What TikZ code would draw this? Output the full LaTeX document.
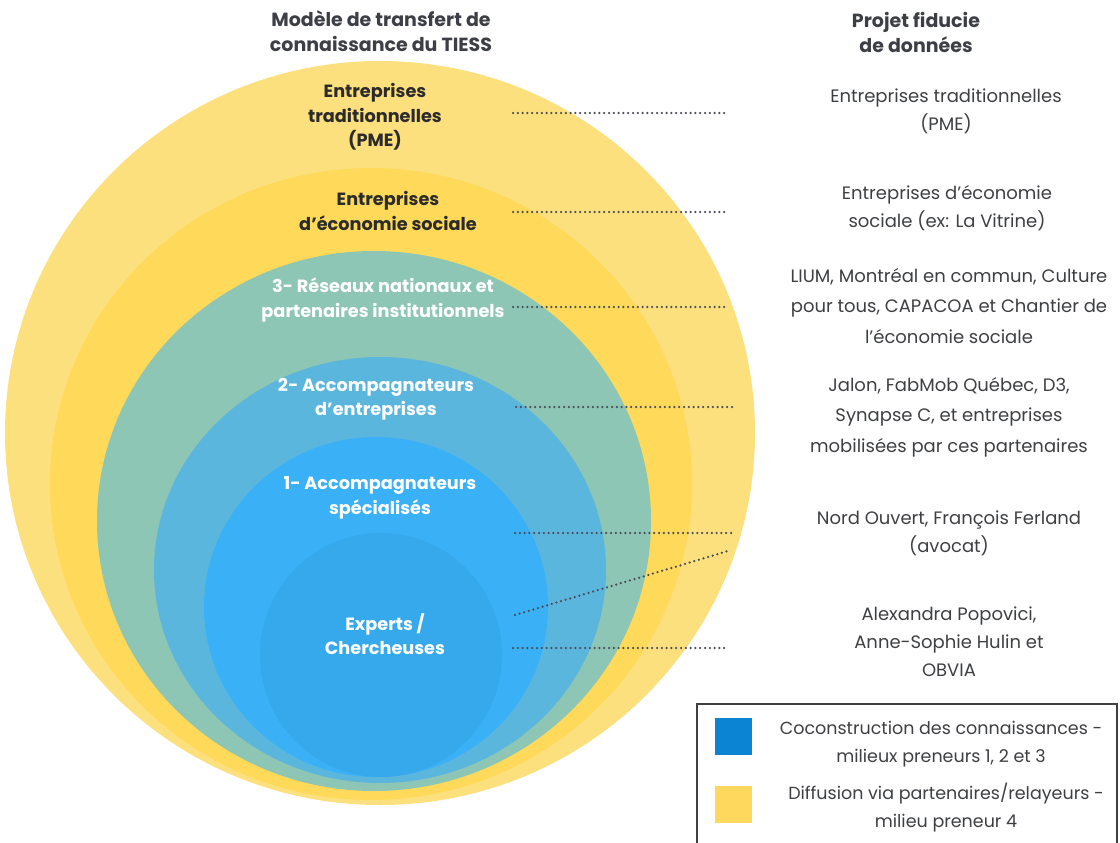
\documentclass[tikz,border=0pt]{standalone}
\usepackage{fontspec}
\setmainfont{Poppins}
\definecolor{yelA}{HTML}{FDE07E}
\definecolor{yelB}{HTML}{FED95A}
\definecolor{teal3}{HTML}{8DC6B4}
\definecolor{blue2}{HTML}{5BB6DE}
\definecolor{blue1}{HTML}{3AB0F6}
\definecolor{blue0}{HTML}{36A9EC}
\definecolor{legblue}{HTML}{0B84D4}
\definecolor{legyel}{HTML}{FDD85C}
\definecolor{txtdark}{HTML}{2B2B2B}
\definecolor{txtgray}{HTML}{3F4043}
\definecolor{titlegray}{HTML}{3C3F45}
\definecolor{dotgray}{HTML}{4A4F57}
\tikzset{
  lbl/.style={align=center, inner sep=0pt, font=\bfseries\fontsize{17.7}{24.5}\selectfont},
  lblw/.style={lbl, text=white},
  lbld/.style={lbl, text=txtdark},
  rtxt/.style={align=center, inner sep=0pt, text=txtgray, font=\fontsize{18}{28}\selectfont},
  rtxtw/.style={rtxt, font=\fontsize{18}{30.5}\selectfont},
  ltxt/.style={rtxt, font=\fontsize{17.5}{28}\selectfont},
  ttl/.style={align=center, inner sep=0pt, text=titlegray, font=\bfseries\fontsize{19}{25}\selectfont},
  dotline/.style={draw=dotgray, line width=2.5pt, dash pattern=on 0pt off 4.8pt, line cap=round},
  legsq/.style={minimum size=37pt, inner sep=0pt},
}
\begin{document}
\begin{tikzpicture}[x=1pt,y=-1pt]
\useasboundingbox (0,0) rectangle (1120,843);
\fill[white] (0,0) rectangle (1120,843);
% nested ellipses
\fill[yelA]  (380,433) ellipse [x radius=375, y radius=372];
\fill[yelB]  (371,484) ellipse [x radius=321, y radius=316];
\fill[teal3] (374,521) ellipse [x radius=277, y radius=270];
\fill[blue2] (380,570) ellipse [x radius=226, y radius=213];
\fill[blue1] (376,607) ellipse [x radius=172, y radius=170];
\fill[blue0] (381,655) ellipse [x radius=121, y radius=122];
% titles
\node[ttl] (tl) at (381,31) {Modèle de transfert de\\connaissance du TIESS};
\node[ttl] (tr) at (916,32) {Projet fiducie\\de données};
% left labels
\node[lbld] (a1) at (375,117) {Entreprises\\traditionnelles\\(PME)};
\node[lbld] (a2) at (388,211) {Entreprises\\d’économie sociale};
\node[lblw] (a3) at (383,300) {3- Réseaux nationaux et\\partenaires institutionnels};
\node[lblw] (a4) at (376,399) {2- Accompagnateurs\\d’entreprises};
\node[lblw] (a5) at (380,498) {1- Accompagnateurs\\spécialisés};
\node[lblw] (a6) at (385,634) {Experts /\\Chercheuses};
% right texts
\node[rtxt] (b1) at (946,111) {Entreprises traditionnelles\\(PME)};
\node[rtxt] (b2) at (947,208) {Entreprises d'économie\\sociale (ex: La Vitrine)};
\node[rtxtw] (b3) at (949,306) {LIUM, Montréal en commun, Culture\\pour tous, CAPACOA et Chantier de\\l'économie sociale};
\node[rtxtw] (b4) at (949,417) {Jalon, FabMob Québec, D3,\\Synapse C, et entreprises\\mobilisées par ces partenaires};
\node[rtxt] (b5) at (949,533) {Nord Ouvert, François Ferland\\(avocat)};
\node[rtxt] (b6) at (949,642) {Alexandra Popovici,\\Anne-Sophie Hulin et\\OBVIA};
% dotted connectors
\coordinate (d1a) at (513,113); \coordinate (d1b) at (728,113);
\coordinate (d2a) at (513,212); \coordinate (d2b) at (728,212);
\coordinate (d3a) at (513,307); \coordinate (d3b) at (728,307);
\coordinate (d4a) at (516,407); \coordinate (d4b) at (733,407);
\coordinate (d5a) at (515,533); \coordinate (d5b) at (733,533);
\coordinate (d6a) at (515,615); \coordinate (d6b) at (728,551);
\coordinate (d7a) at (513,648); \coordinate (d7b) at (728,648);
\draw[dotline] (d1a) -- (d1b);
\draw[dotline] (d2a) -- (d2b);
\draw[dotline] (d3a) -- (d3b);
\draw[dotline] (d4a) -- (d4b);
\draw[dotline] (d5a) -- (d5b);
\draw[dotline] (d6a) -- (d6b);
\draw[dotline] (d7a) -- (d7b);
% legend
\coordinate (lg1) at (697,850); \coordinate (lg2) at (697,704);
\coordinate (lg3) at (1117,704); \coordinate (lg4) at (1117,850);
\draw[line width=1.5pt, draw=black!75] (lg1) -- (lg2) -- (lg3) -- (lg4);
\node[legsq, fill=legblue] (sq1) at (733.5,736.5) {};
\node[legsq, fill=legyel] (sq2) at (733.5,804.5) {};
\node[ltxt] (c1) at (941,744) {Coconstruction des connaissances -\\milieux preneurs 1, 2 et 3};
\node[ltxt] (c2) at (946,808) {Diffusion via partenaires/relayeurs -\\milieu preneur 4};
\end{tikzpicture}
\end{document}
